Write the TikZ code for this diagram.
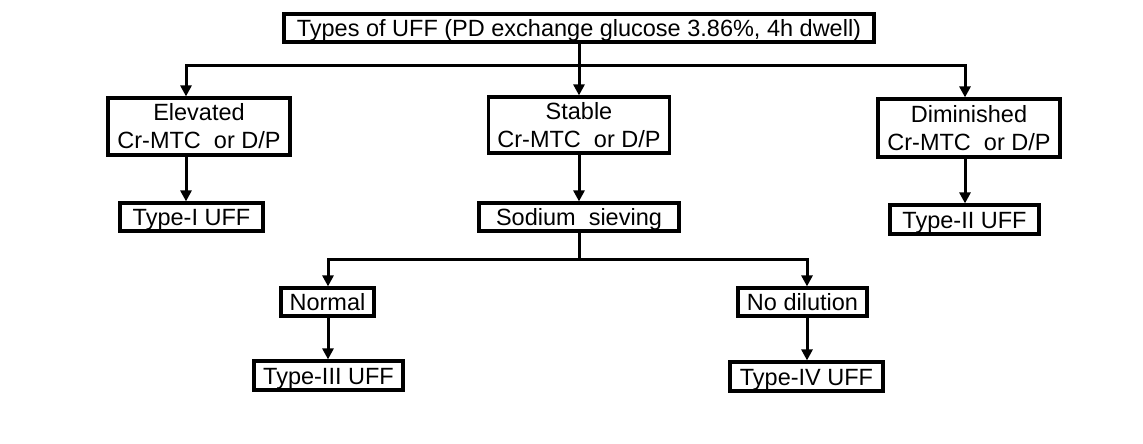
\documentclass[tikz,border=0pt]{standalone}
\usepackage{fontspec}
\setmainfont{Liberation Sans}
\usetikzlibrary{arrows.meta}
\begin{document}
\begin{tikzpicture}[x=1pt,y=-1pt,
  box/.style={draw, line width=3.2pt, inner sep=0pt, align=center,
    font=\fontsize{23.5}{28}\selectfont},
  single/.style={box, text height=17pt, text depth=0pt},
  conn/.style={line width=3pt},
  arr/.style={conn, -{Triangle[length=11pt,width=11pt]}}]
\useasboundingbox (0,0) rectangle (1143,444);
\fill[white] (0,0) rectangle (1143,444);
% boxes
\node[single, minimum width=590pt, minimum height=28pt] (top) at (579,28) {Types of UFF (PD exchange glucose 3.86\%, 4h dwell)};
\node[box, minimum width=182pt, minimum height=57pt] (elev) at (199,126.5) {Elevated\\Cr-MTC\ \ or D/P};
\node[box, minimum width=181pt, minimum height=56pt] (stable) at (579,125) {Stable\\Cr-MTC\ \ or D/P};
\node[box, minimum width=182pt, minimum height=58pt] (dim) at (969,128) {Diminished\\Cr-MTC\ \ or D/P};
\node[single, minimum width=143pt, minimum height=28pt] (type1) at (191.5,217) {Type-I UFF};
\node[single, minimum width=200pt, minimum height=28pt] (sod) at (579,217) {Sodium\ \ sieving};
\node[single, minimum width=149pt, minimum height=29pt] (type2) at (964.5,219.5) {Type-II UFF};
\node[single, minimum width=93pt, minimum height=28pt] (normal) at (327.5,302) {Normal};
\node[single, minimum width=129pt, minimum height=28pt] (nodil) at (802.5,302) {No dilution};
\node[single, minimum width=149pt, minimum height=29pt] (type3) at (328.5,375.5) {Type-III UFF};
\node[single, minimum width=153pt, minimum height=29pt] (type4) at (806.5,376.5) {Type-IV UFF};
% junctions
\coordinate (j1) at (579,66);
\coordinate (l1) at (186,66);
\coordinate (r1) at (965,66);
\coordinate (j2) at (579,259);
\coordinate (l2) at (328,259);
\coordinate (r2) at (807,259);
% connectors
\draw[conn] (top.south) -- (j1);
\draw[arr] (j1) -- (j1 |- stable.north);
\draw[arr] (j1) -- (l1) -- (l1 |- elev.north);
\draw[arr] (j1) -- (r1) -- (r1 |- dim.north);
\draw[arr] (elev.south -| l1) -- (type1.north -| l1);
\draw[arr] (stable.south) -- (stable.south |- sod.north);
\draw[arr] (dim.south -| r1) -- (type2.north -| r1);
\draw[conn] (sod.south) -- (j2);
\draw[arr] (j2) -- (l2) -- (l2 |- normal.north);
\draw[arr] (j2) -- (r2) -- (r2 |- nodil.north);
\draw[arr] (normal.south -| l2) -- (type3.north -| l2);
\draw[arr] (nodil.south -| r2) -- (type4.north -| r2);
\end{tikzpicture}
\end{document}
